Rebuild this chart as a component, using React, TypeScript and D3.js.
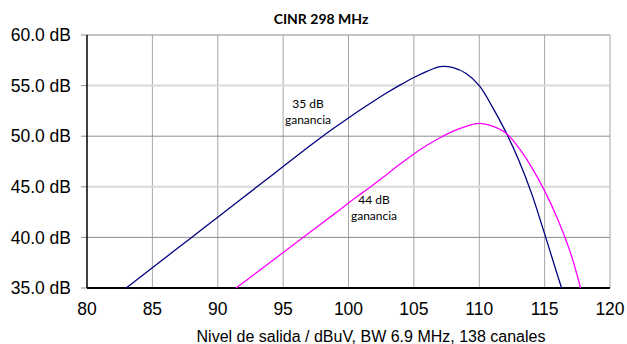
import * as d3 from 'd3';
import { useEffect, useRef } from 'react';

// lectura del gráfico: nivel de salida (dBuV) -> CINR (dB)
const nivel35 = [83, 85, 88, 90, 93, 95, 97, 98, 99, 100, 101, 102, 103, 104, 105, 106, 107, 108, 109, 110, 111, 112, 113, 114, 115, 116, 116.3];
const cinr35 = [35, 37, 40, 42, 45, 47, 49, 49.97, 50.9, 51.8, 52.68, 53.53, 54.34, 55.1, 55.8, 56.4, 56.88, 56.78, 56.2, 55.0, 52.9, 50.5, 47.7, 44.35, 40.35, 36.2, 35];
const nivel44 = [91.4, 93, 95, 97, 99, 100, 101, 102, 103, 104, 105, 106, 107, 108, 109, 110, 111, 112, 113, 114, 115, 116, 117, 117.75];
const cinr44 = [35, 36.55, 38.5, 40.45, 42.4, 43.4, 44.35, 45.3, 46.3, 47.3, 48.25, 49.1, 49.85, 50.5, 50.98, 51.27, 51.0, 50.35, 48.9, 46.95, 44.6, 41.8, 38.4, 35];
const xTicks = [80, 85, 90, 95, 100, 105, 110, 115, 120];
const yTicks = [35, 40, 45, 50, 55, 60];

function dibujar(svgEl: SVGSVGElement) {
    const svg = d3.select(svgEl);
    svg.selectAll('*').remove();
    const x = d3.scaleLinear().domain([80, 120]).range([87, 610]);
    const y = d3.scaleLinear().domain([35, 60]).range([288, 35]);

    // rejilla vertical
    svg.append('g').selectAll('line').data(xTicks.slice(1)).enter().append('line')
        .attr('x1', d => x(d)).attr('x2', d => x(d)).attr('y1', y(60)).attr('y2', y(35))
        .attr('stroke', '#a6a6a6').attr('stroke-width', 1);
    // rejilla horizontal (55 y 45 más claras)
    svg.append('g').selectAll('line').data(yTicks.slice(1)).enter().append('line')
        .attr('x1', x(80)).attr('x2', x(120)).attr('y1', d => y(d)).attr('y2', d => y(d))
        .attr('stroke', d => (d === 55 || d === 45) ? '#d9d9d9' : '#8c8c8c')
        .attr('stroke-width', d => (d === 55 || d === 45) ? 2 : 1);
    // marcas eje y
    svg.append('g').selectAll('line').data(yTicks).enter().append('line')
        .attr('x1', x(80) - 6).attr('x2', x(80)).attr('y1', d => y(d)).attr('y2', d => y(d))
        .attr('stroke', '#8c8c8c');

    // ejes
    svg.append('line').attr('x1', x(80)).attr('x2', x(80)).attr('y1', y(60)).attr('y2', y(35))
        .attr('stroke', 'black').attr('stroke-width', 1.5);
    svg.append('line').attr('x1', x(80)).attr('x2', x(120)).attr('y1', y(35)).attr('y2', y(35))
        .attr('stroke', 'black').attr('stroke-width', 2);

    const lnMkr = d3.line<[number, number]>().x(d => x(d[0])).y(d => y(d[1])).curve(d3.curveCatmullRom.alpha(0.5));
    const s35 = nivel35.map((v, i) => [v, cinr35[i]] as [number, number]);
    const s44 = nivel44.map((v, i) => [v, cinr44[i]] as [number, number]);
    svg.append('path').attr('d', lnMkr(s35)).attr('fill', 'none').attr('stroke', '#000080').attr('stroke-width', 1.3);
    svg.append('path').attr('d', lnMkr(s44)).attr('fill', 'none').attr('stroke', '#ff00ff').attr('stroke-width', 1.3);

    // etiquetas
    svg.append('g').selectAll('text').data(yTicks).enter().append('text')
        .attr('x', 71).attr('y', d => y(d)).attr('dy', '0.35em').attr('text-anchor', 'end')
        .attr('font-family', 'Liberation Sans, Arial, sans-serif').attr('font-size', 17.5)
        .text(d => d.toFixed(1) + ' dB');
    svg.append('g').selectAll('text').data(xTicks).enter().append('text')
        .attr('x', d => x(d)).attr('y', 309).attr('dy', '0.35em').attr('text-anchor', 'middle')
        .attr('font-family', 'Liberation Sans, Arial, sans-serif').attr('font-size', 17.5)
        .text(d => d);
    svg.append('text').attr('x', 371).attr('y', 336).attr('dy', '0.35em').attr('text-anchor', 'middle')
        .attr('font-family', 'Liberation Sans, Arial, sans-serif').attr('font-size', 16)
        .text('Nivel de salida / dBuV, BW 6.9 MHz, 138 canales');
    svg.append('text').attr('x', 321).attr('y', 19).attr('dy', '0.35em').attr('text-anchor', 'middle')
        .attr('font-family', 'Lato, sans-serif').attr('font-weight', 'bold').attr('font-size', 14)
        .text('CINR 298 MHz');

    const notas = [
        { t: ['35 dB', 'ganancia'], cx: 308, cy: 104 },
        { t: ['44 dB', 'ganancia'], cx: 374, cy: 200 },
    ];
    notas.forEach(n => {
        n.t.forEach((s, i) => {
            svg.append('text').attr('x', n.cx).attr('y', n.cy + i * 16).attr('dy', '0.35em')
                .attr('text-anchor', 'middle').attr('font-family', 'Lato, sans-serif').attr('font-size', 12)
                .text(s);
        });
    });
}

export default function App() {
    const ref = useRef<SVGSVGElement>(null);
    useEffect(() => {
        if (ref.current) dibujar(ref.current);
    });
    return (
        <svg ref={ref} width={627} height={344}
            style={{ position: 'absolute', left: 0, top: 0, background: 'white' }}>
        </svg>
    );
}
